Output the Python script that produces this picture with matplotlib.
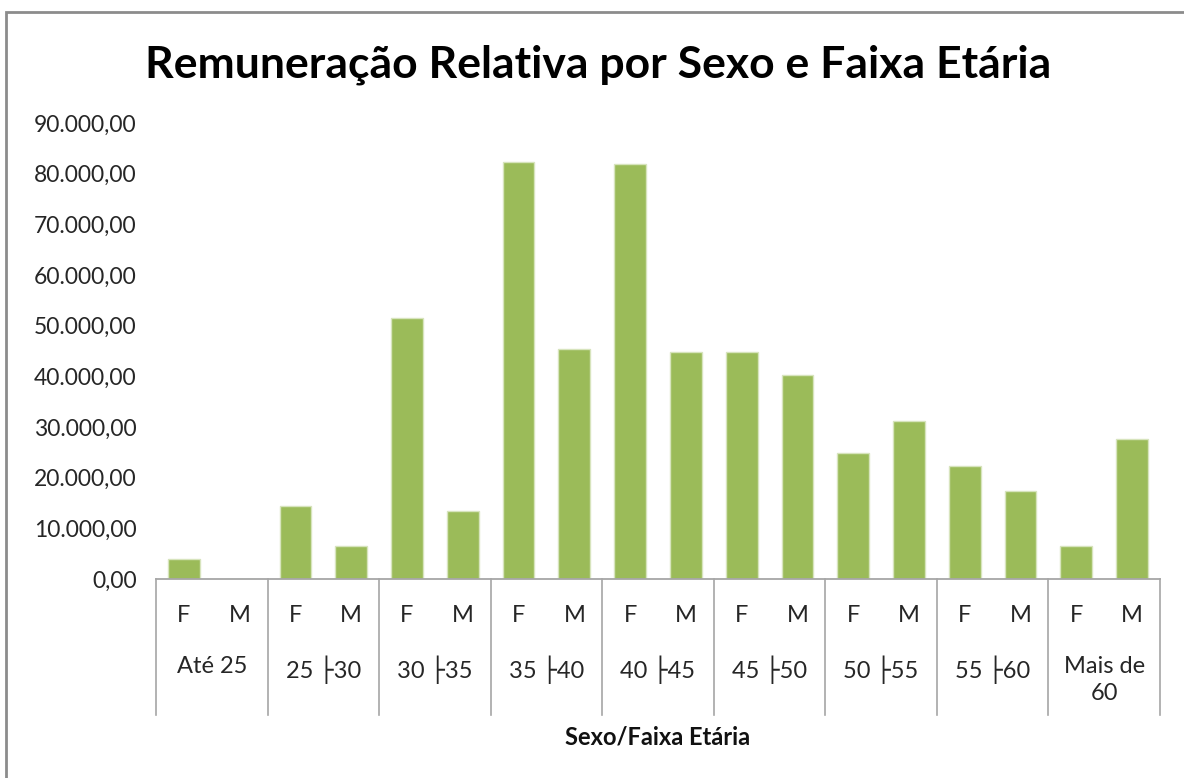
import matplotlib
matplotlib.use("Agg")
import matplotlib.pyplot as plt
import matplotlib.transforms as mtransforms
from matplotlib.patches import Rectangle

# data
faixas = ["Até 25", "25 ├30", "30 ├35", "35 ├40", "40 ├45",
          "45 ├50", "50 ├55", "55 ├60", "Mais de\n60"]
sexos = ["F", "M"]
valores_f = [4000, 14400, 51600, 82400, 82000, 44800, 24800, 22400, 6600]
valores_m = [0, 6600, 13400, 45300, 44800, 40200, 31100, 17400, 27600]
y_ticks = [0, 10000, 20000, 30000, 40000, 50000, 60000, 70000, 80000, 90000]

plt.rcParams["font.family"] = ["Lato", "DejaVu Sans"]

# interleave F/M per age band
valores = []
for f, m in zip(valores_f, valores_m):
    valores += [f, m]
x = list(range(len(valores)))

fig = plt.figure(figsize=(11.84, 7.78), dpi=100)
ax = fig.add_axes([156 / 1184, 1 - 579 / 778, 1004 / 1184, 456 / 778])

ax.bar(x, valores, width=0.57, color="#9BBB59", edgecolor="#D7E4BD", linewidth=1)

ax.set_xlim(-0.5, len(valores) - 0.5)
ax.set_ylim(0, 90000)
ax.set_yticks(y_ticks)


def fmt_br(v, pos=None):
    s = f"{v:,.2f}"
    return s.replace(",", "X").replace(".", ",").replace("X", ".")


ax.yaxis.set_major_formatter(plt.FuncFormatter(fmt_br))
ax.tick_params(axis="y", length=0, pad=14, labelsize=16.5, labelcolor="#262626")
ax.set_xticks([])

for side in ["left", "right", "top"]:
    ax.spines[side].set_visible(False)
ax.spines["bottom"].set_color("#A6A6A6")
ax.spines["bottom"].set_linewidth(1.3)

# multi-level category axis
trans = mtransforms.blended_transform_factory(ax.transData, ax.transAxes)
for i in range(len(faixas) + 1):
    xs = 2 * i - 0.5
    ax.plot([xs, xs], [0, -0.298], transform=trans, color="#A6A6A6",
            linewidth=1.2, clip_on=False)

for i, faixa in enumerate(faixas):
    for j, sx in enumerate(sexos):
        ax.text(2 * i + j, -0.079, sx, transform=trans, ha="center", va="center",
                fontsize=17, color="#262626")
    ax.text(2 * i + 0.5, -0.168, faixa, transform=trans, ha="center", va="top",
            fontsize=17, color="#262626", linespacing=1.35)

ax.text(0.5, -0.347, "Sexo/Faixa Etária", transform=ax.transAxes, ha="center",
        va="center", fontsize=17, fontweight="bold", color="#111111")

fig.text(598 / 1184, 1 - 65 / 778, "Remuneração Relativa por Sexo e Faixa Etária",
         ha="center", va="center", fontsize=32, fontweight="bold", color="#000000")

# chart area border (left and top edges visible in the crop)
fig.patches.append(Rectangle((6 / 1184, -0.05), 1.2, 1 - 12 / 778 + 0.05,
                             transform=fig.transFigure, fill=False,
                             edgecolor="#8C8C8C", linewidth=2))

fig.savefig("out.png", dpi=100)
